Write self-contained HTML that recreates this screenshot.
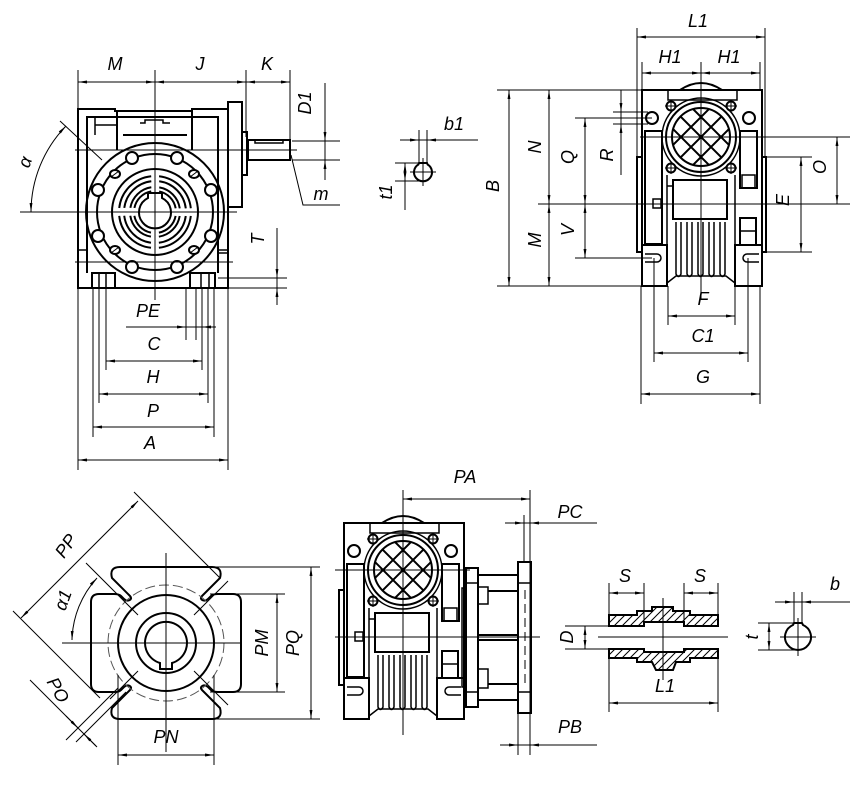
<!DOCTYPE html>
<html><head><meta charset="utf-8"><style>
html,body{margin:0;padding:0;background:#fff;}
svg{display:block;}
text{font-family:"Liberation Sans",sans-serif;font-style:italic;font-size:18px;fill:#000;text-anchor:middle;}
.d{marker-start:url(#a);marker-end:url(#a);}
.e{marker-end:url(#a);}
</style></head><body>
<svg width="850" height="793" viewBox="0 0 850 793" xmlns="http://www.w3.org/2000/svg">
<defs>
<marker id="a" viewBox="0 0 10 4" refX="10" refY="2" markerWidth="9" markerHeight="3.6" markerUnits="userSpaceOnUse" orient="auto-start-reverse"><path d="M0,0.4 L10,2 L0,3.6z" fill="#000"/></marker>
<pattern id="h" patternUnits="userSpaceOnUse" width="8" height="8"><path d="M-2,2 L2,-2 M0,8 L8,0 M6,10 L10,6" stroke="#000" stroke-width="1"/></pattern>
<clipPath id="cc"><circle cx="701" cy="137" r="29"/></clipPath>
<g id="hs" fill="none" stroke="#000" stroke-width="2">
  <path d="M642,286 V90 H762 V286"/>
  <path d="M680,90 Q701,76 722,90"/>
  <path d="M668,90 V100 H737 V90" stroke-width="1.5"/>
  <circle cx="652" cy="118" r="6"/>
  <circle cx="749" cy="118" r="6"/>
  <circle cx="701" cy="137" r="39" stroke-width="1.5"/>
  <circle cx="701" cy="137" r="35"/>
  <g fill="#fff"><circle cx="671" cy="106" r="4.5"/><circle cx="731" cy="106" r="4.5"/><circle cx="671" cy="168" r="4.5"/><circle cx="731" cy="168" r="4.5"/></g>
  <g stroke-width="1"><path d="M665,106 H677 M671,100 V112 M725,106 H737 M731,100 V112 M665,168 H677 M671,162 V174 M725,168 H737 M731,162 V174"/></g>
  <circle cx="701" cy="137" r="29"/>
  <g clip-path="url(#cc)" stroke-width="2"><path d="M661,97 L741,177 M661,77 L741,157 M661,117 L741,197 M741,97 L661,177 M741,77 L661,157 M741,117 L661,197"/></g>
  <rect x="645" y="131" width="17" height="113"/>
  <rect x="740" y="131" width="17" height="57"/>
  <rect x="742" y="175" width="13" height="13" stroke-width="1.5"/>
  <rect x="740" y="218" width="16" height="27"/>
  <path d="M740,231 H756" stroke-width="1.5"/>
  <path d="M667,175 V245 M735,175 V245" stroke-width="1.5"/>
  <rect x="673" y="180" width="54" height="39"/>
  <rect x="653" y="199" width="8" height="9" stroke-width="1.5"/>
  <path d="M673,186 H667" stroke-width="1.5"/>
  <g stroke-width="1.5">
   <path d="M676,222 V274 Q678.5,279 681,274 V222"/>
   <path d="M687,222 V274 Q689.5,279 692,274 V222"/>
   <path d="M698,222 V274 Q700.5,279 703,274 V222"/>
   <path d="M709,222 V274 Q711.5,279 714,274 V222"/>
   <path d="M720,222 V274 Q722.5,279 725,274 V222"/>
  </g>
  <path d="M667,283 L676,276 H726 L735,283" stroke-width="1.5"/>
  <rect x="642" y="245" width="25" height="41"/>
  <rect x="735" y="245" width="27" height="41"/>
  <path d="M645,254 H657 A4,4 0 0 1 657,262 H645" stroke-width="1.5"/>
  <path d="M759,254 H747 A4,4 0 0 0 747,262 H759" stroke-width="1.5"/>
  <rect x="637" y="157" width="5" height="95"/>
</g>
<path id="fq" d="M0,-76 L46,-76 Q57,-76 54,-65 L36,-47 C32.5,-43.5 38.5,-40.5 42,-44 L45,-47 Q47,-49 52,-49 L67,-49 Q75,-49 75,-41 L75,0" fill="none" stroke="#000" stroke-width="2"/>
</defs>

<!-- ============ TOP-LEFT VIEW ============ -->
<g fill="none" stroke="#000" stroke-width="2">
  <path d="M78,288 V109 H115 V111 H192 V109 H228 V288 Z"/>
  <path d="M87,273 V117 H218 V273"/>
  <path d="M117,111 V150 M192,111 V150"/>
  <path d="M123,135 H187"/>
  <path d="M95,117 V135 M95,125 H117" stroke-width="1.5"/>
  <path d="M140,123 H145 V120 H163 V123 H170" stroke-width="1.5"/>
  <rect x="228" y="102" width="14" height="105"/>
  <rect x="242" y="132" width="5" height="43"/>
  <rect x="248" y="140" width="42" height="20"/>
  <path d="M255,140 V143 H283 V140" stroke-width="1.5"/>
  <circle cx="155" cy="212" r="69"/>
  <circle cx="155" cy="212" r="58"/>
  <circle cx="155" cy="212" r="43"/>
  <circle cx="155" cy="212" r="36" stroke-dasharray="48.5 8" stroke-dashoffset="52.5"/>
  <circle cx="155" cy="212" r="31" stroke-dasharray="40.7 8" stroke-dashoffset="44.7"/>
  <circle cx="155" cy="212" r="25" stroke-dasharray="31.3 8" stroke-dashoffset="35.3"/>
  <circle cx="155" cy="212" r="21" stroke-dasharray="25 8" stroke-dashoffset="29"/>
  <path d="M148,198 V193 H162 V198 A16,16 0 1 1 148,198 Z"/>
  <g fill="#fff">
   <circle cx="132" cy="158" r="6"/><circle cx="177" cy="158" r="6"/>
   <circle cx="98" cy="190" r="6"/><circle cx="211" cy="190" r="6"/>
   <circle cx="98" cy="236" r="6"/><circle cx="211" cy="236" r="6"/>
   <circle cx="132" cy="267" r="6"/><circle cx="177" cy="267" r="6"/>
   <ellipse cx="115" cy="174" rx="5" ry="4"/><ellipse cx="194" cy="174" rx="5" ry="4"/>
   <ellipse cx="115" cy="250" rx="5" ry="4"/><ellipse cx="194" cy="250" rx="5" ry="4"/>
  </g>
  <path d="M111,177 L119,171 M190,177 L198,171 M111,253 L119,247 M190,253 L198,247" stroke-width="1"/>
  <rect x="92" y="273" width="23" height="15"/>
  <rect x="190" y="273" width="25" height="15"/>
  <path d="M99,273 V288 M106,273 V288 M201,273 V288 M209,273 V288" stroke-width="1.5"/>
  <path d="M78,250 H87 M218,250 H228 M218,253 H228" stroke-width="1.5"/>
</g>
<g fill="none" stroke="#000" stroke-width="1">
  <path d="M155,70 V300 M20,212 H237 M75,150 H297 M75,262 H233"/>
  <path d="M78,70 V109 M246,70 V137 M290,70 V140"/>
  <line class="d" x1="78" y1="82" x2="155" y2="82"/>
  <line class="d" x1="155" y1="82" x2="246" y2="82"/>
  <line class="d" x1="246" y1="82" x2="290" y2="82"/>
  <!-- D1 -->
  <path d="M292,141 H340 M292,160 H340 M325,83 V180"/>
  <line class="e" x1="325" y1="126" x2="325" y2="141"/>
  <line class="e" x1="325" y1="175" x2="325" y2="160"/>
  <!-- m -->
  <path d="M291,155 L303,205 H340"/>
  <!-- T -->
  <path d="M218,278 H287 M228,288 H287 M277,228 V305"/>
  <line class="e" x1="277" y1="264" x2="277" y2="278"/>
  <line class="e" x1="277" y1="302" x2="277" y2="288"/>
  <!-- alpha -->
  <path class="d" d="M31,212 A124,124 0 0 1 66,126"/>
  <path d="M60,121 L102,160"/>
  <!-- bottom dims -->
  <path d="M78,288 V470 M228,288 V470 M93,288 V437 M214,288 V437 M99,288 V403 M208,288 V403 M106,288 V370 M202,288 V370 M186,288 V340 M196,288 V340"/>
  <path d="M126,327 H216"/>
  <line class="e" x1="170" y1="327" x2="186" y2="327"/>
  <line class="e" x1="216" y1="327" x2="202" y2="327"/>
  <line class="d" x1="106" y1="361" x2="202" y2="361"/>
  <line class="d" x1="99" y1="394" x2="208" y2="394"/>
  <line class="d" x1="93" y1="427" x2="214" y2="427"/>
  <line class="d" x1="78" y1="460" x2="228" y2="460"/>
</g>
<text x="115" y="70">M</text>
<text x="200" y="70">J</text>
<text x="267" y="70">K</text>
<text transform="translate(305,103) rotate(-90)" y="6">D1</text>
<text x="321" y="200">m</text>
<text transform="translate(258,239) rotate(-90)" y="6">T</text>
<text transform="translate(25,162) rotate(-70)" y="6">α</text>
<text x="148" y="317">PE</text>
<text x="154" y="350">C</text>
<text x="153" y="383">H</text>
<text x="153" y="417">P</text>
<text x="150" y="449">A</text>

<!-- ============ TOP-MIDDLE KEY ============ -->
<path d="M419,163 H427 L427.6,164.5 A9,9 0 1 1 418.4,164.5 Z" fill="none" stroke="#000" stroke-width="2"/>
<g fill="none" stroke="#000" stroke-width="1">
  <path d="M410,172 H436 M423,158 V186"/>
  <path d="M419,130 V163 M427,130 V163 M400,140 H478"/>
  <line class="e" x1="405" y1="140" x2="419" y2="140"/>
  <line class="e" x1="441" y1="140" x2="427" y2="140"/>
  <path d="M395,163 H419 M395,181 H423 M405,163 V210"/>
  <line class="d" x1="405" y1="163" x2="405" y2="181"/>
</g>
<text x="454" y="130">b1</text>
<text transform="translate(386,192) rotate(-90)" y="6">t1</text>

<!-- ============ TOP-RIGHT VIEW ============ -->
<use href="#hs"/>
<rect x="762" y="157" width="4" height="95" fill="none" stroke="#000" stroke-width="2"/>
<g fill="none" stroke="#000" stroke-width="1">
  <path d="M701,62 V300 M538,204 H850 M640,137 H850"/>
  <path d="M497,90 H642 M497,286 H642 M575,118 H652 M575,258 H652 M613,112 H648 M613,124 H648 M766,157 H812 M766,252 H812"/>
  <path d="M637,28 V157 M765,28 V157 M642,62 V90 M760,62 V90"/>
  <line class="d" x1="637" y1="37" x2="765" y2="37"/>
  <line class="d" x1="642" y1="73" x2="701" y2="73"/>
  <line class="d" x1="701" y1="73" x2="760" y2="73"/>
  <line class="d" x1="509" y1="90" x2="509" y2="286"/>
  <line class="d" x1="549" y1="90" x2="549" y2="204"/>
  <line class="d" x1="549" y1="204" x2="549" y2="286"/>
  <line class="d" x1="585" y1="118" x2="585" y2="204"/>
  <line class="d" x1="585" y1="204" x2="585" y2="258"/>
  <path d="M621,90 V175"/>
  <line class="e" x1="621" y1="97" x2="621" y2="112"/>
  <line class="e" x1="621" y1="139" x2="621" y2="124"/>
  <line class="d" x1="837" y1="137" x2="837" y2="204"/>
  <line class="d" x1="801" y1="157" x2="801" y2="252"/>
  <path d="M668,286 V325 M735,286 V325 M654,258 V362 M748,258 V362 M641,286 V404 M760,286 V404"/>
  <line class="d" x1="668" y1="316" x2="735" y2="316"/>
  <line class="d" x1="654" y1="353" x2="748" y2="353"/>
  <line class="d" x1="641" y1="394" x2="760" y2="394"/>
</g>
<text x="698" y="27">L1</text>
<text x="670" y="63">H1</text>
<text x="729" y="63">H1</text>
<text transform="translate(493,186) rotate(-90)" y="6">B</text>
<text transform="translate(535,147) rotate(-90)" y="6">N</text>
<text transform="translate(535,240) rotate(-90)" y="6">M</text>
<text transform="translate(568,157) rotate(-90)" y="6">Q</text>
<text transform="translate(568,230) rotate(-90)" y="6">V</text>
<text transform="translate(607,155) rotate(-90)" y="6">R</text>
<text transform="translate(820,167) rotate(-90)" y="6">O</text>
<text transform="translate(783,200) rotate(-90)" y="6">E</text>
<text x="703" y="305">F</text>
<text x="703" y="342">C1</text>
<text x="703" y="383">G</text>

<!-- ============ BOTTOM-LEFT FLANGE ============ -->
<g transform="translate(166,643)" fill="none" stroke="#000" stroke-width="2">
  <use href="#fq"/>
  <use href="#fq" transform="scale(-1,1)"/>
  <use href="#fq" transform="scale(1,-1)"/>
  <use href="#fq" transform="scale(-1,-1)"/>
  <circle r="58" stroke-width="1" stroke="#555" stroke-dasharray="10 4"/>
  <circle r="48"/>
  <circle r="30"/>
  <path d="M-6,20 V26 H6 V20 A21,21 0 1 0 -6,20 Z"/>
</g>
<g fill="none" stroke="#000" stroke-width="1">
  <path d="M166,553 V752 M62,643 H240"/>
  <path d="M194,615 L228,581 M138,615 L86,563 M194,671 L228,705 M138,671 L110,699"/>
  <path d="M13,611 L100,698 M134,492 L220,578"/>
  <line class="d" x1="21" y1="618" x2="138" y2="501"/>
  <path class="d" d="M97,578 A95,95 0 0 0 72,640"/>
  <path d="M118,688 L66,740 M126,692 L76,742 M30,680 L97,747"/>
  <line class="e" x1="66" y1="716" x2="78" y2="728"/>
  <line class="e" x1="96" y1="746" x2="84" y2="734"/>
  <path d="M210,594 H285 M210,692 H285 M215,567 H320 M215,719 H320 M118,675 V765 M214,675 V765"/>
  <line class="d" x1="277" y1="594" x2="277" y2="692"/>
  <line class="d" x1="311" y1="567" x2="311" y2="719"/>
  <line class="d" x1="118" y1="755" x2="214" y2="755"/>
</g>
<text transform="translate(66,546) rotate(-55)" y="6">PP</text>
<text transform="translate(63,600) rotate(-70)" y="6">α1</text>
<text transform="translate(58,690) rotate(60)" y="6">PO</text>
<text transform="translate(262,643) rotate(-90)" y="6">PM</text>
<text transform="translate(293,643) rotate(-90)" y="6">PQ</text>
<text x="166" y="743">PN</text>

<!-- ============ BOTTOM-MIDDLE VIEW ============ -->
<use href="#hs" transform="translate(-298,433)"/>
<g fill="none" stroke="#000" stroke-width="2">
  <rect x="462" y="588" width="4" height="99" stroke-width="1.5"/>
  <rect x="466" y="568" width="12" height="139"/>
  <path d="M466,583 H478 M466,692 H478" stroke-width="1.5"/>
  <path d="M478,575 H518 M488,591 H518 M478,635 H518 M478,640 H518 M488,684 H518 M478,700 H518"/>
  <rect x="478" y="587" width="10" height="17" stroke-width="1.5"/>
  <rect x="478" y="669" width="10" height="19" stroke-width="1.5"/>
  <rect x="518" y="562" width="13" height="151"/>
  <path d="M518,583 H531 M518,692 H531" stroke-width="1.5"/>
  <path d="M525,590 V688" stroke-width="1" stroke-dasharray="9 5"/>
</g>
<g fill="none" stroke="#000" stroke-width="1">
  <path d="M403,490 V735 M335,570 H470 M335,637 H540"/>
  <path d="M530,490 V755 M524,515 V562 M518,713 V755"/>
  <line class="d" x1="403" y1="499" x2="530" y2="499"/>
  <path d="M505,523 H597"/>
  <line class="e" x1="509" y1="523" x2="524" y2="523"/>
  <line class="e" x1="545" y1="523" x2="530" y2="523"/>
  <path d="M500,745 H597"/>
  <line class="e" x1="503" y1="745" x2="518" y2="745"/>
  <line class="e" x1="545" y1="745" x2="530" y2="745"/>
</g>
<text x="465" y="483">PA</text>
<text x="570" y="518">PC</text>
<text x="570" y="733">PB</text>

<!-- ============ BOTTOM-RIGHT SLEEVE ============ -->
<g stroke="#000" stroke-width="2" fill="url(#h)">
  <path d="M609,615 H637 V611 H652 V607 H673 V611 H690 V615 H718 V626 H684 V622 H644 V626 H609 Z"/>
  <path d="M609,649 H644 V652 H684 V649 H718 V658 H690 V662 H676 L673,670 H656 L652,662 H637 V658 H609 Z"/>
</g>
<g fill="none" stroke="#000" stroke-width="1">
  <path d="M598,637 H728 M663,598 V680"/>
  <path d="M565,626 H609 M565,649 H609"/>
  <line class="d" x1="585" y1="626" x2="585" y2="649"/>
  <path d="M609,583 V615 M644,583 V622 M684,583 V622 M718,583 V615"/>
  <line class="d" x1="609" y1="593" x2="644" y2="593"/>
  <line class="d" x1="684" y1="593" x2="718" y2="593"/>
  <path d="M609,658 V712 M718,658 V712"/>
  <line class="d" x1="609" y1="703" x2="718" y2="703"/>
</g>
<text transform="translate(567,637) rotate(-90)" y="6">D</text>
<text x="625" y="582">S</text>
<text x="700" y="582">S</text>
<text x="665" y="692">L1</text>

<!-- ============ BOTTOM-RIGHT KEY ============ -->
<path d="M794,623 H802 L803,625 A13,13 0 1 1 793,625 Z" fill="none" stroke="#000" stroke-width="2"/>
<g fill="none" stroke="#000" stroke-width="1">
  <path d="M780,637 H816 M798,618 V656"/>
  <path d="M794,592 V623 M802,592 V623 M775,602 H850"/>
  <line class="e" x1="780" y1="602" x2="794" y2="602"/>
  <line class="e" x1="816" y1="602" x2="802" y2="602"/>
  <path d="M758,623 H795 M758,650 H800"/>
  <line class="d" x1="769" y1="623" x2="769" y2="650"/>
</g>
<text x="835" y="590">b</text>
<text transform="translate(752,637) rotate(-90)" y="6">t</text>
</svg>
</body></html>
